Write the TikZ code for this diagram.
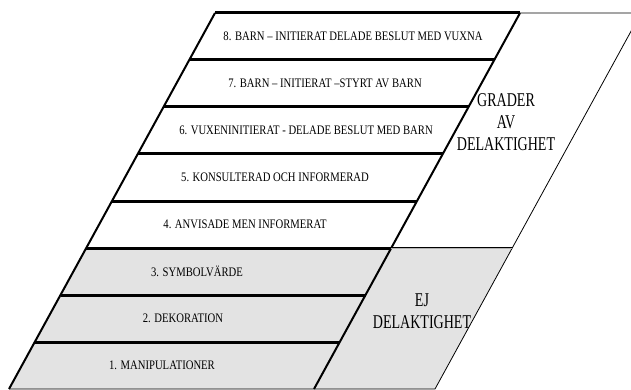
\documentclass[tikz,border=0pt]{standalone}
\usepackage{fontspec}
\setmainfont{Liberation Serif}
\newfontfamily\stepfont[FakeStretch=0.82]{Liberation Serif}
\newfontfamily\gradefont[FakeStretch=0.72]{Liberation Serif}
\usetikzlibrary{calc}
\definecolor{nopart}{RGB}{227,227,227}
\tikzset{
    rung/.style = {line width=3pt},
    side/.style = {line width=2pt},
    rim/.style = {line width=0.8pt},
    split/.style = {double=gray!60,double distance=0.6pt,line width=0.6pt},
    steplabel/.style = {font=\stepfont\fontsize{13}{15}\selectfont,inner sep=0},
    gradelabel/.style = {font=\gradefont\fontsize{19.5}{22}\selectfont,align=center,inner sep=0}
}

\begin{document}
\begin{tikzpicture}[x=1pt,y=-1pt]
        \useasboundingbox (0,0) rectangle (631,390);
        \clip (0,0) rectangle (631,390);
        % Corners
        \path (215,13) coordinate (tl)
            (9,389) coordinate (bl)
            (520,13) coordinate (tm)
            (314,389) coordinate (bm)
            (641,13) coordinate (tr)
            (435,389) coordinate (br)
        ;
        % Split between the grades
        \path ($(tl)!5/8!(bl)$) coordinate (ml)
            ($(tm)!5/8!(bm)$) coordinate (mm)
            ($(tr)!5/8!(br)$) coordinate (mr)
        ;
        % Grey part
        \fill[nopart] (ml) -- (mr) -- (br) -- (bl) -- cycle;
        % Rungs
        \foreach \k in {0,...,7}
            \draw[rung] ($(tl)!\k/8!(bl)$) -- ($(tm)!\k/8!(bm)$);
        % Sides
        \foreach \src/\dest in {tl/bl,tm/bm}
            \draw[side] (\src) -- (\dest);
        \draw[rim] (tm) -- (tr) -- (br) -- (bl);
        \draw[split] (mm) -- (mr);
        % Steps
        \foreach \n/\x/\txt in {
            8/353/{8. BARN – INITIERAT DELADE BESLUT MED VUXNA},
            7/325/{7. BARN – INITIERAT –STYRT AV BARN},
            6/306/{6. VUXENINITIERAT - DELADE BESLUT MED BARN},
            5/275/{5. KONSULTERAD OCH INFORMERAD},
            4/245/{4. ANVISADE MEN INFORMERAT},
            3/197/{3. SYMBOLVÄRDE},
            2/183/{2. DEKORATION},
            1/162/{1. MANIPULATIONER}}
            \node[steplabel] (s\n) at (\x,{36.5+47*(8-\n)}) {\txt};
        % Grades
        \node[gradelabel] (grade) at (506,122) {GRADER\\AV\\DELAKTIGHET};
        \node[gradelabel] (nograde) at (422,311) {EJ\\DELAKTIGHET};
    \end{tikzpicture}
\end{document}
